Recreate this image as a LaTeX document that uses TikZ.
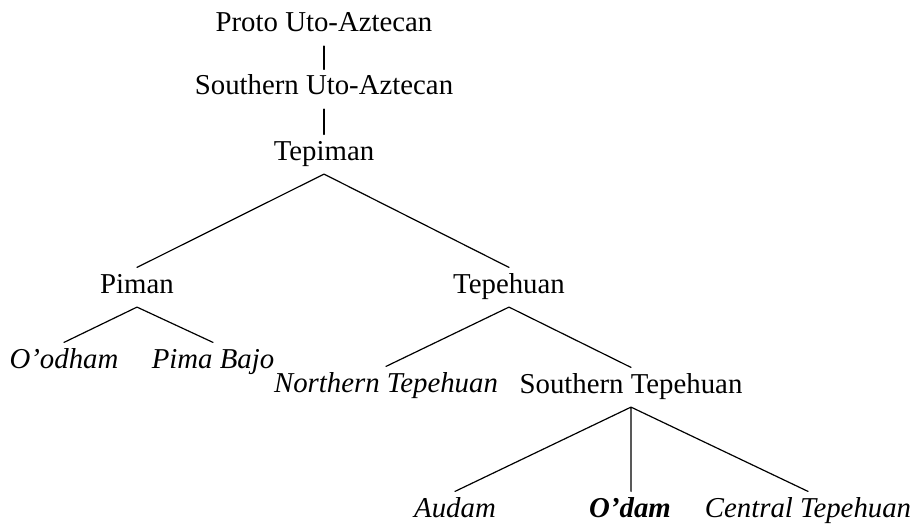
\documentclass[tikz,border=0pt]{standalone}
\usepackage{fontspec}
\setmainfont{Liberation Serif}
\begin{document}
\begin{tikzpicture}[x=0.5pt, y=-0.5pt, font=\fontsize{14.4}{17}\selectfont, line width=0.6pt, line cap=round, line join=round,
	every node/.style={inner sep=2.5pt, text height=10pt, text depth=4.25pt, anchor=base},
	leaf/.style={font=\fontsize{14.4}{17}\selectfont\itshape}]
	\useasboundingbox (0,0) rectangle (913,524);
	\node (proto) at (324,32) {Proto Uto-Aztecan};
	\node (suaz) at (324,95) {Southern Uto-Aztecan};
	\node (tepim) at (324,160) {Tepiman};
	\node (piman) at (137,293) {Piman};
	\node (tepeh) at (509,293) {Tepehuan};
	\node[leaf] (oodham) at (64,368) {O’odham};
	\node[leaf] (pbajo) at (213,368) {Pima Bajo};
	\node[leaf] (ntepeh) at (386,392) {Northern Tepehuan};
	\node (stepeh) at (631,393) {Southern Tepehuan};
	\node[leaf] (audam) at (455,517) {Audam};
	\node[leaf, font=\fontsize{14.4}{17}\selectfont\bfseries\itshape] (odam) at (630,517) {O’dam};
	\node[leaf] (ctepeh) at (808,517) {Central Tepehuan};
	\draw (proto.south)--(suaz.north) (suaz.south)--(tepim.north);
	\draw (tepim.south)--(piman.north) (tepim.south)--(tepeh.north);
	\draw (piman.south)--(oodham.north) (piman.south)--(pbajo.north);
	\draw (tepeh.south)--(ntepeh.north) (tepeh.south)--(stepeh.north);
	\draw (stepeh.south)--(audam.north) (stepeh.south)--(odam.north-|stepeh.south) (stepeh.south)--(ctepeh.north);
\end{tikzpicture}
\end{document}
